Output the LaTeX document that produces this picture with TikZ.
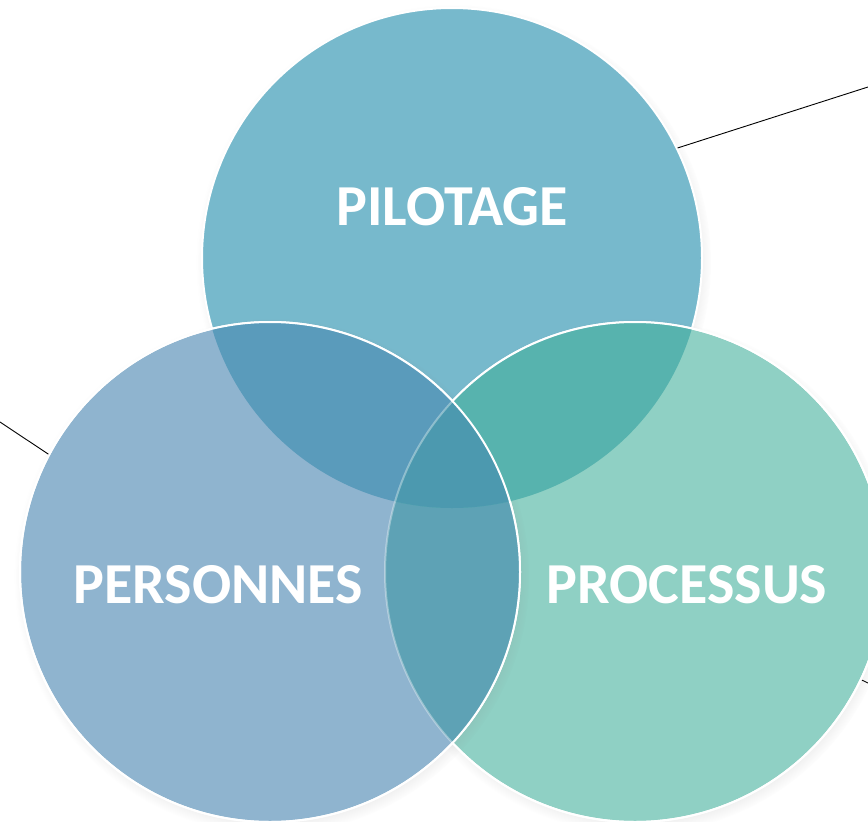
\documentclass[tikz,border=0pt]{standalone}
\usepackage{fontspec}
\setmainfont{Carlito}
\usepackage{tikz}
\usetikzlibrary{shapes,shadows,positioning}
\definecolor{bleuhaut}{HTML}{77B9CC}
\definecolor{bleugauche}{HTML}{8FB4CF}
\definecolor{vertdroite}{HTML}{8FD0C4}
\definecolor{hautgauche}{HTML}{5A9BBB}
\definecolor{hautdroite}{HTML}{57B3AE}
\definecolor{gauchedroite}{HTML}{5EA2B5}
\definecolor{centre}{HTML}{4C99AF}
\tikzstyle{cercle} = [circle, draw=white, line width=2pt, minimum size=500pt, inner sep=0pt, circular drop shadow={shadow scale=1.03, shadow xshift=2pt, shadow yshift=-4pt, opacity=0.35}]
\tikzstyle{bord} = [draw=white, line width=2pt]
\tikzstyle{titre} = [text=white, font=\bfseries\fontsize{58}{62}\selectfont]
\tikzstyle{trait} = [draw=black, line width=0.9pt]

\begin{document}
\begin{tikzpicture}[x=1pt,y=-1pt]
	\useasboundingbox (0,0) rectangle (868,822);
	\coordinate (chaut) at (452,258);
	\coordinate (cgauche) at (270,572);
	\coordinate (cdroite) at (635,572);
	\coordinate (fhaut) at (868,87);
	\coordinate (fgauche) at (0,422);
	\coordinate (fdroite) at (868,683);
	\draw[trait] (cdroite) -- (fdroite);
	% les trois cercles
	\node[cercle, fill=bleuhaut] (pilotage) at (chaut) {};
	\node[cercle, fill=vertdroite] (processus) at (cdroite) {};
	\node[cercle, fill=bleugauche] (personnes) at (cgauche) {};
	% intersections
	\begin{scope}
		\clip (cgauche) circle (250);
		\fill[gauchedroite] (cdroite) circle (250);
	\end{scope}
	\begin{scope}
		\clip (chaut) circle (250);
		\fill[hautgauche] (cgauche) circle (250);
		\fill[hautdroite] (cdroite) circle (250);
		\clip (cgauche) circle (250);
		\fill[centre] (cdroite) circle (250);
	\end{scope}
	% bords
	\begin{scope}[even odd rule]
		\clip (0,0) rectangle (868,822) (cgauche) circle (250);
		\draw[bord] (cdroite) circle (250);
	\end{scope}
	\begin{scope}
		\clip (cgauche) circle (250);
		\draw[bord, opacity=0.35] (cdroite) circle (250);
	\end{scope}
	\draw[bord] (cgauche) circle (250);
	% traits
	\draw[trait] (pilotage.26) -- (fhaut);
	\draw[trait] (personnes.152) -- (fgauche);
	% textes
	\node[titre] (tpilotage) at (452,207) {PILOTAGE};
	\node[titre] (tpersonnes) at (218,585) {PERSONNES};
	\node[titre] (tprocessus) at (687,585) {PROCESSUS};
\end{tikzpicture}
\end{document}
